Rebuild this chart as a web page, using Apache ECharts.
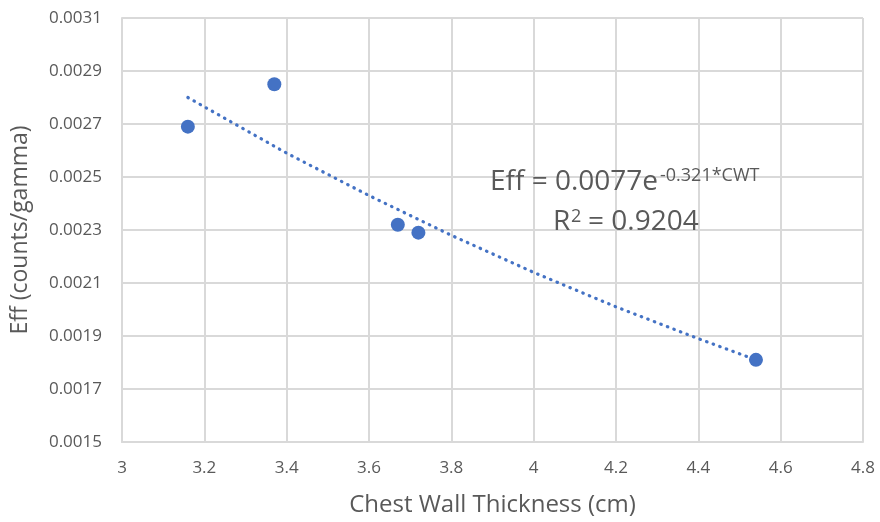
<!DOCTYPE html>
<html>
<head>
<meta charset="utf-8">
<script src="https://cdn.jsdelivr.net/npm/echarts@6/dist/echarts.min.js"></script>
<style>html,body{margin:0;padding:0;background:#fff}#c{width:880px;height:522px}</style>
</head>
<body>
<div id="c"></div>
<script>
// Measured points
const cwt = [3.16, 3.37, 3.67, 3.72, 4.54];
const eff = [0.00269, 0.00285, 0.00232, 0.00229, 0.00181];
// Trendline
const trendX = [3.16, 3.4, 3.6, 3.8, 4.0, 4.2, 4.4, 4.54];
const trendY = [0.00280, 0.00259, 0.00243, 0.00228, 0.00214, 0.00201, 0.00189, 0.00181];
// Tick labels
const xTicks = [3, 3.2, 3.4, 3.6, 3.8, 4, 4.2, 4.4, 4.6, 4.8];
const yTicks = [0.0015, 0.0017, 0.0019, 0.0021, 0.0023, 0.0025, 0.0027, 0.0029, 0.0031];
const xTitle = 'Chest Wall Thickness (cm)';
const yTitle = 'Eff (counts/gamma)';

const FONT = 'Open Sans';
const TXT = '#595959';
const GRIDC = '#d9d9d9';

const chart = echarts.init(document.getElementById('c'));
function txt(text, x, y, size) {
  return { type: 'text', x: x, y: y, z: 100,
    style: { text: text, fontSize: size, fill: TXT, fontFamily: FONT, align: 'left', verticalAlign: 'middle' } };
}
chart.setOption({
  animation: false,
  backgroundColor: '#fff',
  textStyle: { fontFamily: FONT },
  grid: { left: 122, right: 17, top: 18, bottom: 79 },
  xAxis: {
    type: 'value', min: 3, max: 4.8, interval: 0.2,
    name: xTitle, nameLocation: 'middle', nameGap: 51,
    nameTextStyle: { fontSize: 24, color: TXT, fontFamily: FONT },
    axisLine: { show: true, lineStyle: { color: GRIDC, width: 2 } },
    axisTick: { show: false },
    splitLine: { show: true, lineStyle: { color: GRIDC, width: 2 } },
    axisLabel: { fontSize: 17, color: TXT, margin: 18, fontFamily: FONT,
      formatter: v => { const m = xTicks.find(t => Math.abs(t - v) < 1e-9); return m === undefined ? '' : String(m); } }
  },
  yAxis: {
    type: 'value', min: 0.0015, max: 0.0031,
    name: yTitle, nameLocation: 'middle', nameGap: 90, nameRotate: 90,
    nameTextStyle: { fontSize: 23, color: TXT, fontFamily: FONT },
    axisLine: { show: true, lineStyle: { color: GRIDC, width: 2 } },
    axisTick: { show: false, customValues: yTicks },
    splitLine: { show: true, lineStyle: { color: GRIDC, width: 2 } },
    axisLabel: { fontSize: 17, color: TXT, margin: 20, fontFamily: FONT, customValues: yTicks,
      formatter: v => v.toFixed(4) }
  },
  series: [
    {
      type: 'line', data: trendX.map((x, i) => [x, trendY[i]]),
      smooth: false, showSymbol: false, symbol: 'none',
      lineStyle: { color: '#4472C4', width: 3.2, type: [0.5, 6.5], cap: 'round' },
      z: 2
    },
    {
      type: 'scatter', data: cwt.map((x, i) => [x, eff[i]]),
      symbolSize: 14, itemStyle: { color: '#4472C4', opacity: 1 }, z: 3
    }
  ],
  graphic: [
    txt('Eff = 0.0077e', 490, 182, 28),
    txt('-0.321*CWT', 660, 176, 18),
    txt('R', 553, 222, 28),
    txt('2', 571, 217, 18),
    txt('= 0.9204', 588, 222, 28)
  ]
});
</script>
</body>
</html>
